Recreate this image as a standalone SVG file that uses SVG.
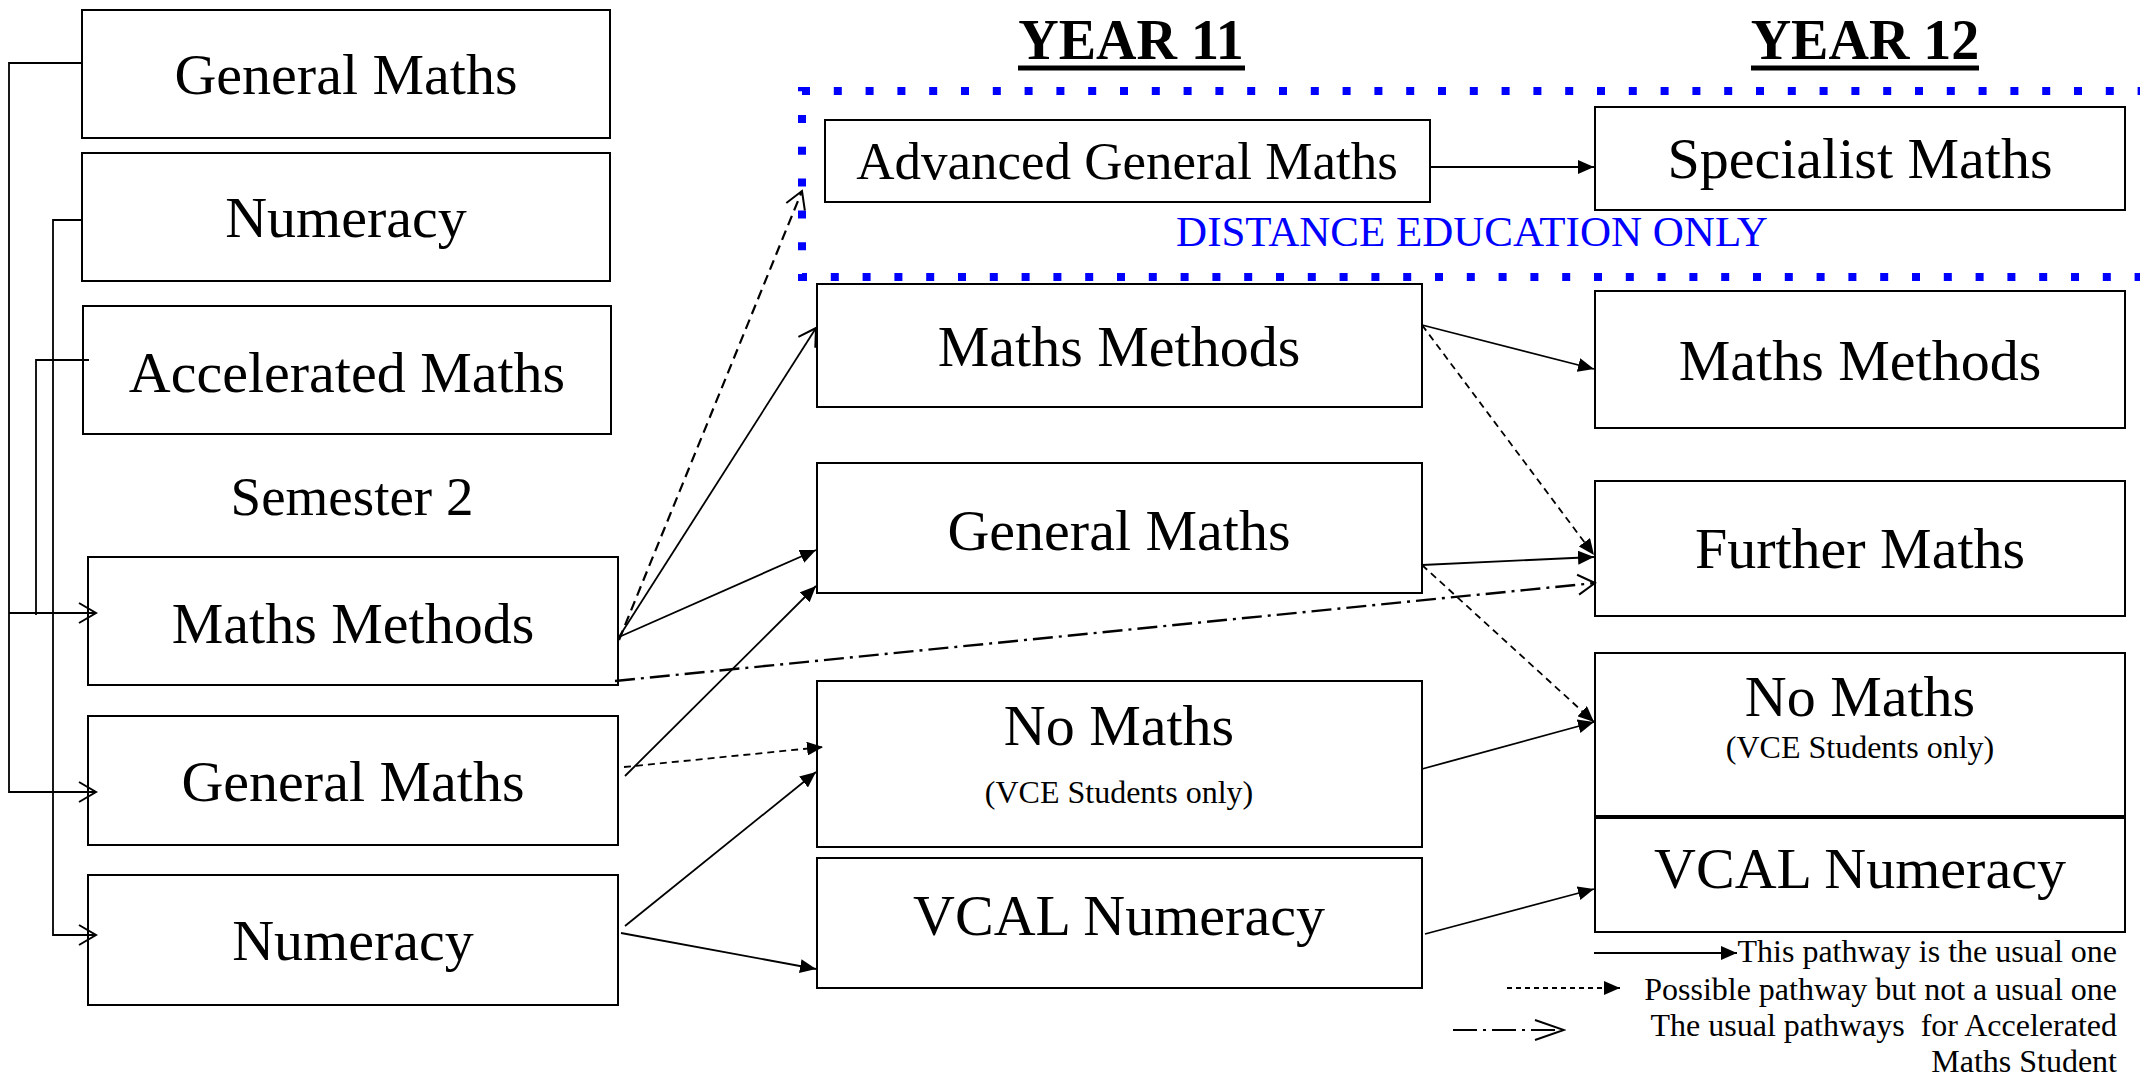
<svg xmlns="http://www.w3.org/2000/svg" width="2140" height="1075" viewBox="0 0 2140 1075">
<style>
.box{fill:#fff;stroke:#000;stroke-width:2}
.t{font-family:"Liberation Serif","Times New Roman",serif;font-size:58px;fill:#000;text-anchor:middle}
.s{font-size:32px}
.ln{fill:none;stroke:#000;stroke-width:1.8}
.dash{stroke-dasharray:7 5}
.dash1{stroke-dasharray:10 6;stroke-width:2.2}
.dd{stroke-dasharray:20 6 3 6;stroke-width:2.4}
.lg{font-family:"Liberation Serif","Times New Roman",serif;font-size:32px;fill:#000;text-anchor:end}
</style>
<defs>
<marker id="fa" markerUnits="userSpaceOnUse" markerWidth="16" markerHeight="14" viewBox="0 0 16 14" refX="16" refY="7" orient="auto">
<path d="M0,0 L16,7 L0,14 z" fill="#000"/>
</marker>
<marker id="oa" markerUnits="userSpaceOnUse" markerWidth="20" markerHeight="24" viewBox="0 0 20 24" refX="18" refY="12" orient="auto">
<path d="M1,2 L18,12 L1,22" fill="none" stroke="#000" stroke-width="2"/>
</marker>
<marker id="ob" markerUnits="userSpaceOnUse" markerWidth="32" markerHeight="24" viewBox="0 0 32 24" refX="30" refY="12" orient="auto">
<path d="M1,2 L30,12 L1,22" fill="none" stroke="#000" stroke-width="2"/>
</marker>
</defs>
<rect width="2140" height="1075" fill="#fff"/>

<g id="titles">
<text x="1131" y="59" class="t" style="font-size:56px;font-weight:bold">YEAR 11</text>
<line x1="1018" y1="68" x2="1245" y2="68" stroke="#000" stroke-width="5"/>
<text x="1865" y="59" class="t" style="font-size:56px;font-weight:bold">YEAR 12</text>
<line x1="1751" y1="68" x2="1979" y2="68" stroke="#000" stroke-width="5"/>
</g>

<g id="distance-education">
<rect x="802" y="91" width="1420" height="186" fill="none" stroke="#0000FF" stroke-width="8" stroke-dasharray="8 23.8"/>
<text x="1472" y="246" class="t" style="font-size:43px;fill:#0000FF">DISTANCE EDUCATION ONLY</text>
</g>

<g id="y10-general-maths"><rect class="box" x="82" y="10" width="528" height="128"/><text class="t" x="346" y="94">General Maths</text></g>
<g id="y10-numeracy"><rect class="box" x="82" y="153" width="528" height="128"/><text class="t" x="346" y="237">Numeracy</text></g>
<g id="y10-accelerated"><rect class="box" x="83" y="306" width="528" height="128"/><text class="t" x="347" y="392">Accelerated Maths</text></g>
<g id="semester2"><text class="t" x="352" y="515" style="font-size:55px">Semester 2</text></g>
<g id="s2-maths-methods"><rect class="box" x="88" y="557" width="530" height="128"/><text class="t" x="353" y="643">Maths Methods</text></g>
<g id="s2-general-maths"><rect class="box" x="88" y="716" width="530" height="129"/><text class="t" x="353" y="801">General Maths</text></g>
<g id="s2-numeracy"><rect class="box" x="88" y="875" width="530" height="130"/><text class="t" x="353" y="960">Numeracy</text></g>

<g id="y11-advanced"><rect class="box" x="825" y="120" width="605" height="82"/><text class="t" x="1127" y="179" style="font-size:53px">Advanced General Maths</text></g>
<g id="y11-maths-methods"><rect class="box" x="817" y="284" width="605" height="123"/><text class="t" x="1119" y="366">Maths Methods</text></g>
<g id="y11-general-maths"><rect class="box" x="817" y="463" width="605" height="130"/><text class="t" x="1119" y="550">General Maths</text></g>
<g id="y11-no-maths"><rect class="box" x="817" y="681" width="605" height="166"/><text class="t" x="1119" y="745">No Maths</text><text class="t s" x="1119" y="803">(VCE Students only)</text></g>
<g id="y11-vcal"><rect class="box" x="817" y="858" width="605" height="130"/><text class="t" x="1119" y="935">VCAL Numeracy</text></g>

<g id="y12-specialist"><rect class="box" x="1595" y="107" width="530" height="103"/><text class="t" x="1860" y="178">Specialist Maths</text></g>
<g id="y12-maths-methods"><rect class="box" x="1595" y="291" width="530" height="137"/><text class="t" x="1860" y="380">Maths Methods</text></g>
<g id="y12-further"><rect class="box" x="1595" y="481" width="530" height="135"/><text class="t" x="1860" y="568">Further Maths</text></g>
<g id="y12-no-maths"><rect class="box" x="1595" y="653" width="530" height="163"/><text class="t" x="1860" y="716">No Maths</text><text class="t s" x="1860" y="758">(VCE Students only)</text></g>
<g id="y12-vcal"><rect class="box" x="1595" y="818" width="530" height="114"/><text class="t" x="1860" y="888">VCAL Numeracy</text></g>

<g id="connectors">
<path class="ln" d="M82,63 H9 V792 H96" marker-end="url(#oa)"/>
<path class="ln" d="M9,613 H96" marker-end="url(#oa)"/>
<path class="ln" d="M89,360 H36 V615"/>
<path class="ln" d="M82,220 H53 V935 H96" marker-end="url(#oa)"/>
<path class="ln dash1" d="M619,640 L802,191" marker-end="url(#oa)"/>
<path class="ln" d="M619,637 L816,328" marker-end="url(#oa)"/>
<path class="ln" d="M619,637 L816,550" marker-end="url(#fa)"/>
<path class="ln dd" d="M615,681 L1595,583" marker-end="url(#oa)"/>
<path class="ln" d="M625,776 L816,586" marker-end="url(#fa)"/>
<path class="ln dash" d="M624,767 L823,747" marker-end="url(#fa)"/>
<path class="ln" d="M625,926 L816,772" marker-end="url(#fa)"/>
<path class="ln" d="M621,933 L816,969" marker-end="url(#fa)"/>
<path class="ln" d="M1430,167 L1594,167" marker-end="url(#fa)"/>
<path class="ln" d="M1422,325 L1594,369" marker-end="url(#fa)"/>
<path class="ln dash" d="M1422,325 L1594,555" marker-end="url(#fa)"/>
<path class="ln" d="M1422,565 L1594,557" marker-end="url(#fa)"/>
<path class="ln dash" d="M1422,565 L1594,722" marker-end="url(#fa)"/>
<path class="ln" d="M1422,769 L1594,722" marker-end="url(#fa)"/>
<path class="ln" d="M1425,934 L1594,889" marker-end="url(#fa)"/>
</g>

<g id="legend">
<path class="ln" d="M1594,953 L1737,953" marker-end="url(#fa)"/>
<text class="lg" x="2117" y="962">This pathway is the usual one</text>
<path class="ln" d="M1507,988 L1620,988" style="stroke-dasharray:5 4" marker-end="url(#fa)"/>
<text class="lg" x="2117" y="1000">Possible pathway but not a usual one</text>
<path class="ln" d="M1453,1030 L1564,1030" style="stroke-dasharray:24 6 3 6;stroke-width:2.2" marker-end="url(#ob)"/>
<text class="lg" x="2117" y="1036" xml:space="preserve">The usual pathways  for Accelerated</text>
<text class="lg" x="2117" y="1072">Maths Student</text>
</g>
</svg>
